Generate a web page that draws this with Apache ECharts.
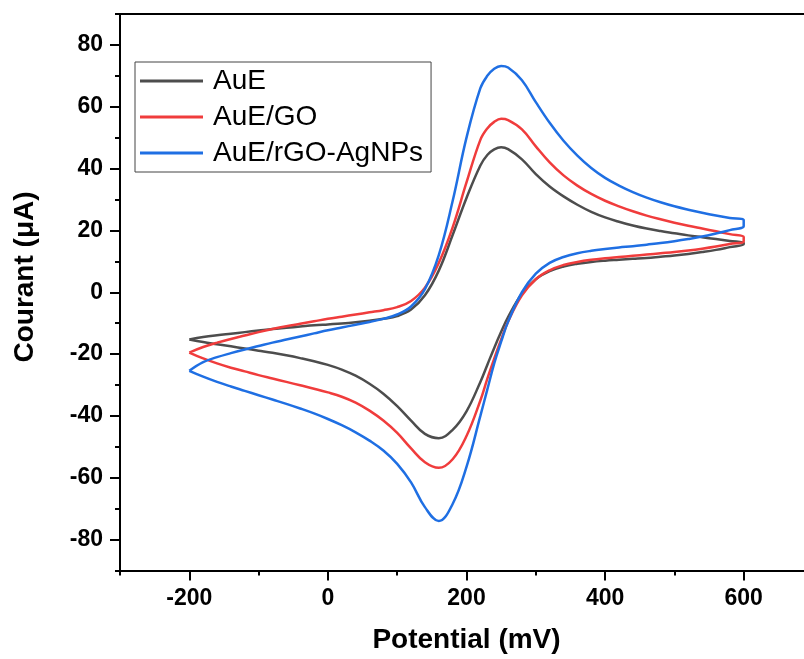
<!DOCTYPE html>
<html>
<head>
<meta charset="utf-8">
<script src="https://cdn.jsdelivr.net/npm/echarts@6/dist/echarts.min.js"></script>
<style>html,body{margin:0;padding:0;background:#fff}#c{width:804px;height:659px}</style>
</head>
<body>
<div id="c"></div>
<script>
// Potential grids (mV): forward sweep and reverse sweep
var potentialFwd = [-200,-180,-160,-140,-120,-100,-80,-60,-40,-20,0,20,40,60,80,100,120,140,160,180,200,220,230,240,250,260,280,300,320,340,360,380,400,420,440,460,480,500,520,540,560,580,600];
var potentialRev = potentialFwd.slice().reverse();

// Current (µA) - anodic (forward) branches, -200 -> 600 mV
var auEFwd    = [-15.3,-14.5,-13.9,-13.4,-12.9,-12.4,-11.9,-11.5,-11.1,-10.7,-10.4,-10.1,-9.7,-9.2,-8.6,-7.7,-5.6,-1,7,18.5,30.5,41,44.4,46.2,46.9,46.3,43,38.2,34.2,31,28.3,26,24.2,22.8,21.6,20.6,19.8,19.1,18.4,17.8,17.2,16.6,16];
var auEGOFwd  = [-19.5,-17.7,-16.3,-15.1,-14.0,-12.9,-11.9,-11.0,-10.2,-9.4,-8.6,-7.9,-7.2,-6.5,-5.8,-4.8,-2.8,1.5,9.5,21,35.5,49.3,53,55.1,56.1,55.7,52.7,47.2,42,37.8,34.5,31.8,29.6,27.8,26.2,24.8,23.6,22.5,21.5,20.6,19.7,18.8,17.9];
var auErGOFwd = [-25.4,-22.6,-21.0,-19.7,-18.5,-17.4,-16.3,-15.3,-14.3,-13.3,-12.3,-11.4,-10.5,-9.6,-8.6,-7.2,-4.6,1,12,29.5,50,66,70,72.3,73.2,72.7,68.6,61.5,54.8,49,44.2,40.2,37,34.5,32.4,30.6,29.1,27.8,26.7,25.7,24.8,24,23.3];

// Current (µA) - cathodic (reverse) branches, 600 -> -200 mV
var auERev    = [15.5,14.6,13.7,13.0,12.4,11.9,11.5,11.1,10.8,10.5,10.2,9.8,9.2,8.3,6.8,4.2,-0.5,-8,-12.8,-18,-23.5,-29,-38.5,-44.5,-47.2,-45.8,-41.5,-36.8,-32.8,-29.6,-27,-25,-23.5,-22.3,-21.3,-20.4,-19.6,-18.9,-18.2,-17.5,-16.8,-16.1,-15.3];
var auEGORev  = [16.5,15.6,14.8,14.1,13.5,13.0,12.6,12.2,11.8,11.4,11.0,10.5,9.8,8.8,7.1,4.2,-1,-9.5,-15.3,-21.5,-28,-35,-46.5,-54,-56.8,-55,-50.5,-45.5,-41.5,-38.3,-35.7,-33.8,-32.4,-31.2,-30.1,-29,-27.9,-26.8,-25.6,-24.4,-23,-21.4,-19.5];
var auErGORev = [21.4,20.1,19,18,17.2,16.5,15.9,15.4,14.9,14.5,14,13.4,12.6,11.4,9.5,6,0,-9.5,-16,-23,-31.5,-40,-56.5,-68.5,-74,-69.5,-61.5,-55.5,-51.2,-48,-45.3,-43,-41,-39.2,-37.6,-36.1,-34.7,-33.3,-31.9,-30.5,-29,-27.3,-25.4];

var seriesNames = ['AuE','AuE/GO','AuE/rGO-AgNPs'];
var seriesColors = ['#4d4d4d','#f03c3c','#1f6fe3'];

var xMajor = [-200,0,200,400,600];
var xMinor = [-300,-100,100,300,500,700];
var yMajor = [-80,-60,-40,-20,0,20,40,60,80];
var yMinor = [-90,-70,-50,-30,-10,10,30,50,70,90];

function loop(fwd, rev){
  var d = [];
  for (var i=0;i<potentialFwd.length;i++) d.push([potentialFwd[i], fwd[i]]);
  for (var j=0;j<potentialRev.length;j++) d.push([potentialRev[j], rev[j]]);
  return d;
}
var loops = [loop(auEFwd,auERev), loop(auEGOFwd,auEGORev), loop(auErGOFwd,auErGORev)];

var chart = echarts.init(document.getElementById('c'));
var font = 'Liberation Sans, Arial, sans-serif';
var axisLineStyle = {color:'#000', width:2};
var tickStyle = {color:'#000', width:2};
chart.setOption({
  animation:false,
  grid:{left:120, width:693, top:14, height:556.5, outerBoundsMode:'none', containLabel:false},
  legend:{
    orient:'vertical', left:135, top:62,
    data: seriesNames,
    icon:'rect', itemWidth:63, itemHeight:3, itemGap:6,
    padding:[4,8,4,5],
    borderColor:'#444', borderWidth:1,
    textStyle:{fontFamily:font, fontSize:28, color:'#000', lineHeight:30, padding:[0,0,0,5]}
  },
  xAxis:[
    {type:'value', position:'bottom', min:-300, max:700, interval:100,
     name:'Potential (mV)', nameLocation:'middle', nameGap:56,
     nameTextStyle:{fontFamily:font, fontSize:28, fontWeight:'bold', color:'#000'},
     axisLine:{show:true, onZero:false, lineStyle:axisLineStyle},
     axisTick:{show:true, length:10, customValues:xMajor, lineStyle:tickStyle},
     axisLabel:{customValues:xMajor, margin:17, fontFamily:font, fontSize:23, fontWeight:'bold', color:'#000'},
     splitLine:{show:false}},
    {type:'value', position:'bottom', min:-300, max:700, interval:100,
     axisLine:{show:false, onZero:false},
     axisTick:{show:true, length:5, customValues:xMinor, lineStyle:tickStyle},
     axisLabel:{show:false}, splitLine:{show:false}},
    {type:'value', position:'top', min:-300, max:700, interval:100,
     axisLine:{show:true, onZero:false, lineStyle:axisLineStyle},
     axisTick:{show:false}, axisLabel:{show:false}, splitLine:{show:false}}
  ],
  yAxis:[
    {type:'value', position:'left', min:-90, max:90, interval:10,
     axisLine:{show:true, onZero:false, lineStyle:axisLineStyle},
     axisTick:{show:true, length:10, customValues:yMajor, lineStyle:tickStyle},
     axisLabel:{customValues:yMajor, margin:17, fontFamily:font, fontSize:23, fontWeight:'bold', color:'#000'},
     splitLine:{show:false}},
    {type:'value', position:'left', min:-90, max:90, interval:10,
     axisLine:{show:false, onZero:false},
     axisTick:{show:true, length:5, customValues:yMinor, lineStyle:tickStyle},
     axisLabel:{show:false}, splitLine:{show:false}}
  ],
  graphic:[{
    type:'text', x:25, y:277, rotation:Math.PI/2,
    style:{text:'Courant (μA)', fontFamily:font, fontSize:28, fontWeight:'bold', fill:'#000', align:'center', verticalAlign:'middle'}
  }],
  series: loops.map(function(d,i){
    return {name:seriesNames[i], type:'line', data:d, xAxisIndex:0, yAxisIndex:0,
      showSymbol:false, smooth:0.4, lineStyle:{width:2.5, color:seriesColors[i]}, itemStyle:{color:seriesColors[i]}};
  })
});
</script>
</body>
</html>
